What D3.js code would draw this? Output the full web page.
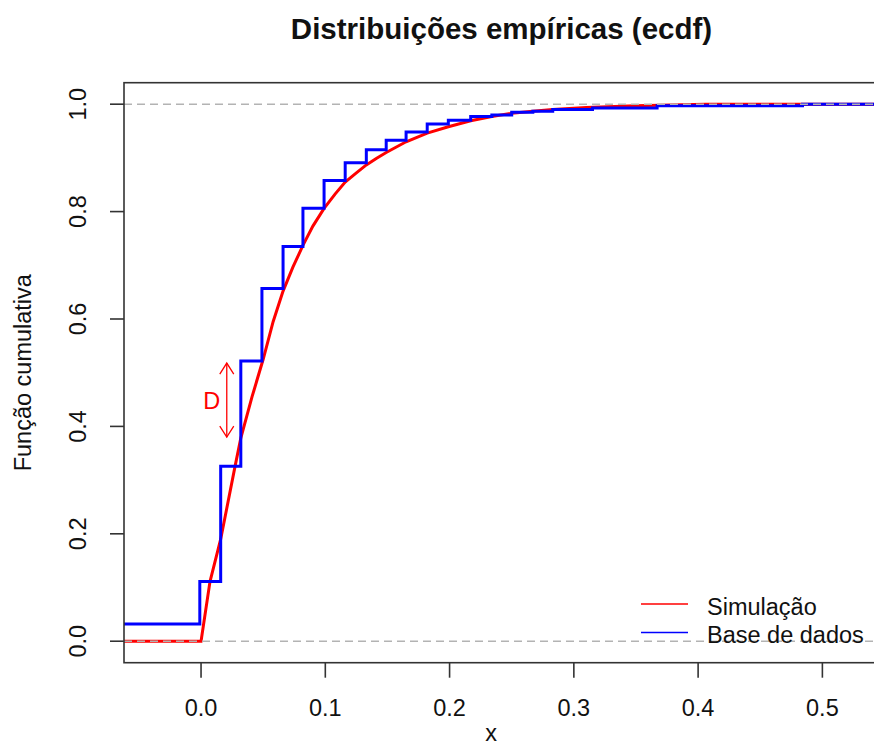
<!DOCTYPE html>
<html>
<head>
<meta charset="utf-8">
<script src="https://cdn.jsdelivr.net/npm/d3@7"></script>
<style>
  html, body { margin: 0; padding: 0; background: #fff; }
  svg { display: block; font-family: "Liberation Sans", Arial, sans-serif; }
</style>
</head>
<body>
<svg id="chart" width="874" height="747"></svg>
<script>
"use strict";

// Simulation ecdf (red)
const simX = [0, 0.0072, 0.0158, 0.0274, 0.032, 0.041, 0.050, 0.058, 0.066, 0.074, 0.082, 0.090,
  0.099, 0.108, 0.116, 0.125, 0.133, 0.141, 0.149, 0.165, 0.182, 0.199, 0.217, 0.234, 0.25,
  0.267, 0.283, 0.31, 0.35, 0.406];
const simF = [0, 0.111, 0.19, 0.326, 0.378, 0.455, 0.525, 0.595, 0.652, 0.697, 0.737, 0.773,
  0.806, 0.833, 0.855, 0.872, 0.887, 0.899, 0.910, 0.930, 0.946, 0.958, 0.969, 0.977, 0.983,
  0.987, 0.990, 0.994, 0.997, 1.0];

// Data ecdf (blue): jump positions and level after each jump
const dataStart = 0.032;
const dataX = [-0.001, 0.0158, 0.032, 0.049, 0.066, 0.082, 0.099, 0.116, 0.133, 0.149, 0.165,
  0.182, 0.199, 0.217, 0.234, 0.25, 0.267, 0.283, 0.315, 0.367, 0.484];
const dataF = [0.111, 0.326, 0.522, 0.657, 0.735, 0.806, 0.858, 0.891, 0.915, 0.933, 0.948,
  0.963, 0.970, 0.977, 0.980, 0.985, 0.987, 0.990, 0.993, 0.997, 1.0];

const xTicks = [0, 0.1, 0.2, 0.3, 0.4, 0.5];
const yTicks = [0, 0.2, 0.4, 0.6, 0.8, 1.0];
const refLines = [0, 1];
const legendLabels = ["Simulação", "Base de dados"];
const legendColors = ["#ff0000", "#0000ff"];

// "D" marker: distance between the two curves
const dMark = { x: 0.0207, y0: 0.380, y1: 0.518 };

const svg = d3.select("#chart");
const plot = { left: 124, top: 82.7, right: 887, bottom: 662.7 };

const x = d3.scaleLinear().domain([-0.062, 0.552]).range([plot.left, plot.right]);
const y = d3.scaleLinear().domain([-0.04, 1.04]).range([plot.bottom, plot.top]);
const xMin = x.domain()[0], xMax = x.domain()[1];

svg.append("defs").append("clipPath").attr("id", "clip")
  .append("rect")
  .attr("x", plot.left).attr("y", plot.top)
  .attr("width", plot.right - plot.left).attr("height", plot.bottom - plot.top);

const inner = svg.append("g").attr("clip-path", "url(#clip)");

// red curve, flat at 0 on the left and at 1 on the right
const simPts = [[xMin, 0]].concat(simX.map((v, i) => [v, simF[i]]), [[xMax, 1]]);
inner.append("path")
  .datum(simPts)
  .attr("fill", "none")
  .attr("stroke", "#ff0000")
  .attr("stroke-width", 3)
  .attr("d", d3.line().x(d => x(d[0])).y(d => y(d[1])));

// blue step function (right-continuous)
const dataPts = [[xMin, dataStart]].concat(dataX.map((v, i) => [v, dataF[i]]), [[xMax, 1]]);
inner.append("path")
  .datum(dataPts)
  .attr("fill", "none")
  .attr("stroke", "#0000ff")
  .attr("stroke-width", 3)
  .attr("d", d3.line().curve(d3.curveStepAfter).x(d => x(d[0])).y(d => y(d[1])));

// dashed reference lines at 0 and 1
inner.selectAll(".ref")
  .data(refLines)
  .join("line")
  .attr("class", "ref")
  .attr("x1", plot.left).attr("x2", plot.right)
  .attr("y1", d => y(d)).attr("y2", d => y(d))
  .attr("stroke", "#b3b3b3")
  .attr("stroke-width", 1.6)
  .attr("stroke-dasharray", "8,5");

// D arrow
const arr = svg.append("g").attr("stroke", "#ff0000").attr("stroke-width", 1.3).attr("fill", "none");
const ax = x(dMark.x), ay0 = y(dMark.y0), ay1 = y(dMark.y1);
arr.append("line").attr("x1", ax).attr("x2", ax).attr("y1", ay0).attr("y2", ay1);
arr.append("path").attr("d", `M${ax - 7},${ay1 + 11}L${ax},${ay1}L${ax + 7},${ay1 + 11}`);
arr.append("path").attr("d", `M${ax - 7},${ay0 - 11}L${ax},${ay0}L${ax + 7},${ay0 - 11}`);
svg.append("text")
  .attr("x", ax - 15).attr("y", (ay0 + ay1) / 2 + 8.5)
  .attr("text-anchor", "middle")
  .attr("fill", "#ff0000")
  .attr("font-size", "23.5px")
  .text("D");

// box
svg.append("rect")
  .attr("x", plot.left).attr("y", plot.top)
  .attr("width", plot.right - plot.left).attr("height", plot.bottom - plot.top)
  .attr("fill", "none").attr("stroke", "#333").attr("stroke-width", 1.6);

// x axis
svg.selectAll(".xt")
  .data(xTicks)
  .join("line")
  .attr("class", "xt")
  .attr("x1", d => x(d)).attr("x2", d => x(d))
  .attr("y1", plot.bottom).attr("y2", plot.bottom + 15)
  .attr("stroke", "#333").attr("stroke-width", 1.6);
svg.selectAll(".xl")
  .data(xTicks)
  .join("text")
  .attr("class", "xl")
  .attr("x", d => x(d)).attr("y", 716)
  .attr("text-anchor", "middle")
  .attr("font-size", "23.5px")
  .attr("fill", "#111")
  .text(d => d3.format(".1f")(d));

// y axis
svg.selectAll(".yt")
  .data(yTicks)
  .join("line")
  .attr("class", "yt")
  .attr("x1", plot.left - 14).attr("x2", plot.left)
  .attr("y1", d => y(d)).attr("y2", d => y(d))
  .attr("stroke", "#333").attr("stroke-width", 1.6);
svg.selectAll(".yl")
  .data(yTicks)
  .join("text")
  .attr("class", "yl")
  .attr("transform", d => `translate(86,${y(d)}) rotate(-90)`)
  .attr("text-anchor", "middle")
  .attr("font-size", "23.5px")
  .attr("fill", "#111")
  .text(d => d3.format(".1f")(d));

// titles
svg.append("text")
  .attr("x", (plot.left + plot.right) / 2 - 4).attr("y", 39)
  .attr("text-anchor", "middle")
  .attr("font-size", "29.5px")
  .attr("font-weight", "bold")
  .attr("fill", "#111")
  .text("Distribuições empíricas (ecdf)");
svg.append("text")
  .attr("x", 491).attr("y", 741)
  .attr("text-anchor", "middle")
  .attr("font-size", "23.5px")
  .attr("fill", "#111")
  .text("x");
svg.append("text")
  .attr("transform", `translate(31,${(plot.top + plot.bottom) / 2}) rotate(-90)`)
  .attr("text-anchor", "middle")
  .attr("font-size", "23.5px")
  .attr("fill", "#111")
  .text("Função cumulativa");

// legend, no box
const legend = svg.selectAll(".legend")
  .data(legendLabels)
  .join("g")
  .attr("class", "legend")
  .attr("transform", (d, i) => `translate(0,${604 + i * 28.5})`);
legend.append("line")
  .attr("x1", 641).attr("x2", 688)
  .attr("stroke", (d, i) => legendColors[i])
  .attr("stroke-width", 1.6);
legend.append("text")
  .attr("x", 707).attr("y", 10.5)
  .attr("font-size", "23.5px")
  .attr("fill", "#111")
  .text(d => d);
</script>
</body>
</html>
